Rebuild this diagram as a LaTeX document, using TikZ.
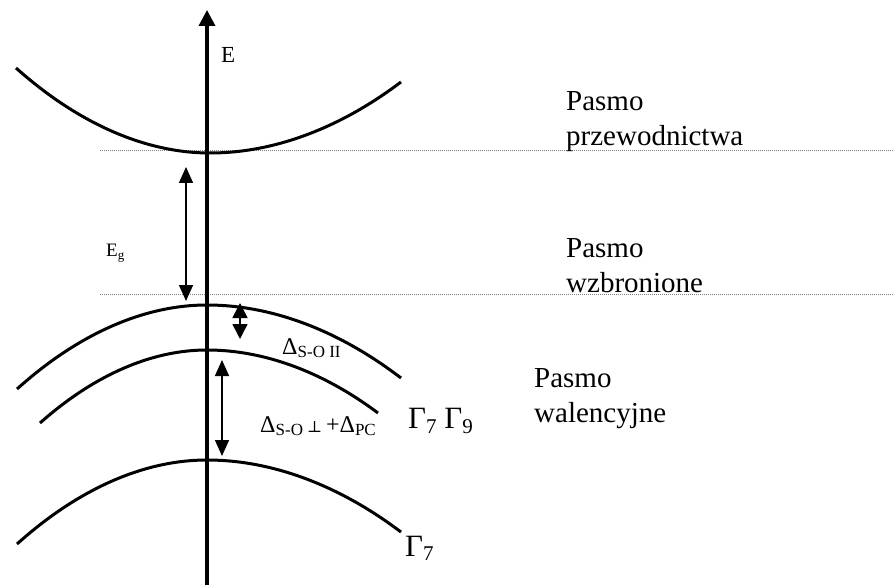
\documentclass[tikz,border=0pt]{standalone}
\usepackage{fontspec}
\setmainfont{Liberation Serif}
\newfontfamily\dejavu{DejaVu Serif}
\usetikzlibrary{arrows.meta}
\newcommand{\lowsub}[2][13]{\raisebox{-0.3ex}{\fontsize{#1}{#1}\selectfont #2}}
\begin{document}
\begin{tikzpicture}[x=1pt,y=-1pt,
  band/.style={line width=3pt},
  dimarrow/.style={line width=1.5pt,{Triangle[length=16pt,width=14pt]}-{Triangle[length=16pt,width=14pt]}},
  level/.style={gray, line width=0.8pt, dash pattern=on 1pt off 1pt},
  lbl/.style={inner sep=0pt, anchor=west, font=\fontsize{29}{35}\selectfont, align=left},
  sym/.style={inner sep=0pt, anchor=west}]
\useasboundingbox (0,0) rectangle (893,585);
% levels
\coordinate (l1a) at (100,150); \coordinate (l1b) at (893,150);
\coordinate (l2a) at (100,294); \coordinate (l2b) at (893,294);
\draw[level] (l1a) -- (l1b);
\draw[level] (l2a) -- (l2b);
% bands
\draw[band] (16,68) parabola bend (210,153) (401,82);
\draw[band] (17,389) parabola bend (207,305) (401,378);
\draw[band] (40,423) parabola bend (207,350) (378,413);
\draw[band] (17,544) parabola bend (207,460) (401,532);
% axis
\coordinate (ax0) at (207,585); \coordinate (ax1) at (207,10);
\draw[line width=3.5pt,-{Triangle[length=16pt,width=16pt]}] (ax0) -- (ax1);
% dimension arrows
\coordinate (eg1) at (186,167); \coordinate (eg2) at (186,301);
\draw[dimarrow] (eg1) -- (eg2);
\coordinate (so1) at (240,303); \coordinate (so2) at (240,339);
\draw[line width=1.5pt,{Triangle[length=15pt,width=15pt]}-{Triangle[length=15pt,width=15pt]}] (so1) -- (so2);
\coordinate (pc1) at (222,360); \coordinate (pc2) at (222,456);
\draw[dimarrow] (pc1) -- (pc2);
% labels
\node[sym, font=\fontsize{23}{23}\selectfont] (E) at (221,55) {E};
\node[sym, font=\fontsize{19}{19}\selectfont] (Eg) at (106,253) {E\lowsub[13]{g}};
\node[sym, font=\fontsize{24}{24}\selectfont] (dso) at (282,348) {Δ\lowsub[17]{S-O II}};
\node[sym, font=\fontsize{24}{24}\selectfont] (dpc) at (260,426) {Δ\lowsub[17]{S-O}\,{\dejavu\fontsize{16}{16}\selectfont ⊥}\,+Δ\lowsub[17]{PC}};
\node[sym, font=\fontsize{31}{31}\selectfont] (g79) at (408,421) {Γ\lowsub[21]{7} Γ\lowsub[21]{9}};
\node[sym, font=\fontsize{31}{31}\selectfont] (g7) at (405,548) {Γ\lowsub[21]{7}};
\node[lbl] (cb) at (566,122) {Pasmo\\przewodnictwa};
\node[lbl] (gap) at (566,266) {Pasmo\\wzbronione};
\node[lbl] (vb) at (534,399) {Pasmo\\walencyjne};
\end{tikzpicture}
\end{document}
